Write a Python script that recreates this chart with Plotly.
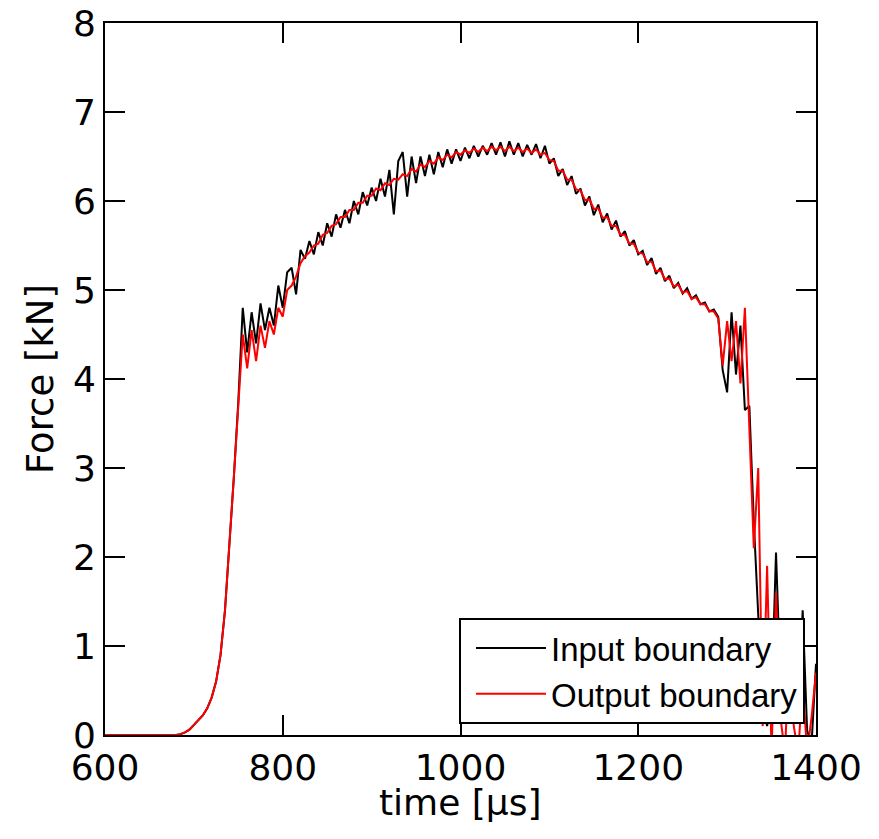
import plotly.graph_objects as go

time_us = [600, 605, 610, 615, 620, 625, 630, 635, 640, 645, 650, 655, 660, 665, 670, 675, 680,
           685, 690, 695, 700, 705, 710, 715, 720, 725, 730, 735, 740, 745, 750,
           755, 760, 765, 770, 775, 780, 785, 790, 795, 800,
           805, 810, 815, 820, 825, 830, 835, 840, 845, 850,
           855, 860, 865, 870, 875, 880, 885, 890, 895, 900,
           905, 910, 915, 920, 925, 930, 935, 940, 945, 950,
           955, 960, 965, 970, 975, 980, 985, 990, 995, 1000,
           1005, 1010, 1015, 1020, 1025, 1030, 1035, 1040, 1045, 1050,
           1055, 1060, 1065, 1070, 1075, 1080, 1085, 1090, 1095, 1100,
           1105, 1110, 1115, 1120, 1125, 1130, 1135, 1140, 1145, 1150,
           1155, 1160, 1165, 1170, 1175, 1180, 1185, 1190, 1195, 1200,
           1205, 1210, 1215, 1220, 1225, 1230, 1235, 1240, 1245, 1250,
           1255, 1260, 1265, 1270, 1275, 1280, 1285, 1290, 1295, 1300,
           1305, 1310, 1315, 1320, 1325, 1330, 1335, 1340, 1345, 1350,
           1355, 1360, 1365, 1370, 1375, 1380, 1385, 1390, 1395, 1400]

input_kN = [0, 0, 0, 0, 0, 0, 0, 0, 0, 0, 0, 0, 0, 0, 0, 0, 0,
            0.01, 0.03, 0.06, 0.11, 0.16, 0.22, 0.30, 0.42, 0.60, 0.90, 1.40, 2.10, 2.90, 3.75,
            4.80, 4.30, 4.75, 4.40, 4.85, 4.55, 4.80, 4.60, 5.05, 4.80,
            5.20, 5.25, 4.95, 5.45, 5.35, 5.55, 5.40, 5.65, 5.50, 5.75,
            5.60, 5.85, 5.70, 5.90, 5.75, 6.00, 5.85, 6.10, 5.95, 6.15,
            6.00, 6.25, 6.05, 6.35, 5.85, 6.45, 6.55, 6.05, 6.50, 6.20,
            6.50, 6.28, 6.52, 6.30, 6.55, 6.38, 6.58, 6.42, 6.58, 6.45,
            6.60, 6.48, 6.62, 6.50, 6.62, 6.52, 6.65, 6.52, 6.66, 6.50,
            6.67, 6.52, 6.65, 6.50, 6.63, 6.52, 6.64, 6.48, 6.62, 6.42,
            6.48, 6.28, 6.36, 6.18, 6.28, 6.08, 6.14, 5.95, 6.05, 5.84,
            5.96, 5.76, 5.86, 5.68, 5.78, 5.60, 5.66, 5.50, 5.56, 5.40,
            5.44, 5.28, 5.36, 5.18, 5.25, 5.10, 5.16, 5.02, 5.08, 4.96,
            5.02, 4.90, 4.94, 4.84, 4.86, 4.76, 4.78, 4.70, 4.10, 3.85,
            4.75, 4.05, 4.60, 3.65, 3.70, 2.40, 1.40, 0.30, 0.10, 0.40,
            2.05, 0.60, 1.05, 0.35, 1.25, 0.20, 1.40, 0.05, -0.10, 0.80]

output_kN = [0, 0, 0, 0, 0, 0, 0, 0, 0, 0, 0, 0, 0, 0, 0, 0, 0,
             0.01, 0.03, 0.06, 0.11, 0.16, 0.22, 0.30, 0.42, 0.60, 0.90, 1.40, 2.10, 2.90, 3.70,
             4.50, 4.12, 4.55, 4.20, 4.60, 4.35, 4.65, 4.50, 4.80, 4.70,
             5.00, 5.05, 5.15, 5.30, 5.38, 5.42, 5.50, 5.52, 5.62, 5.64,
             5.72, 5.74, 5.82, 5.82, 5.90, 5.90, 5.98, 5.98, 6.06, 6.06,
             6.14, 6.12, 6.20, 6.18, 6.25, 6.24, 6.30, 6.28, 6.36, 6.33,
             6.41, 6.38, 6.45, 6.42, 6.49, 6.46, 6.52, 6.49, 6.55, 6.52,
             6.57, 6.54, 6.59, 6.55, 6.60, 6.56, 6.61, 6.57, 6.61, 6.56,
             6.61, 6.56, 6.60, 6.55, 6.59, 6.54, 6.58, 6.52, 6.54, 6.46,
             6.45, 6.34, 6.34, 6.24, 6.24, 6.13, 6.12, 6.01, 6.02, 5.91,
             5.92, 5.81, 5.82, 5.72, 5.72, 5.62, 5.62, 5.52, 5.52, 5.42,
             5.41, 5.31, 5.32, 5.21, 5.22, 5.12, 5.13, 5.04, 5.06, 4.97,
             4.99, 4.90, 4.92, 4.84, 4.84, 4.76, 4.76, 4.68, 4.15, 4.65,
             4.20, 4.65, 3.95, 4.80, 3.40, 2.10, 3.00, 0.10, 1.90, -0.20,
             1.60, 0.20, -0.20, 0.90, 0.10, -0.20, 0.60, -0.20, 0.20, 0.70]

x_ticks = [600, 800, 1000, 1200, 1400]
y_ticks = [0, 1, 2, 3, 4, 5, 6, 7, 8]

AXFONT = "DejaVu Sans, sans-serif"
LGFONT = "Arial, Liberation Sans, sans-serif"

fig = go.Figure()
fig.add_trace(go.Scatter(x=time_us, y=input_kN, mode="lines", name="Input boundary",
                         line=dict(color="#000000", width=2)))
fig.add_trace(go.Scatter(x=time_us, y=output_kN, mode="lines", name="Output boundary",
                         line=dict(color="#ff0000", width=2)))

axis_common = dict(showline=True, linecolor="black", linewidth=2, mirror="ticks",
                   ticks="inside", ticklen=20, tickwidth=2, tickcolor="black",
                   showgrid=False, zeroline=False, automargin=False,
                   ticklabeloverflow="allow",
                   tickfont=dict(family=AXFONT, size=36, color="black"))

fig.update_xaxes(range=[600, 1400], tickvals=x_ticks, ticktext=[str(v) for v in x_ticks],
                 **axis_common)
fig.update_yaxes(range=[0, 8], tickvals=y_ticks, ticktext=[str(v) for v in y_ticks],
                 title=dict(text="Force [kN]", font=dict(family=AXFONT, size=37, color="black"),
                            standoff=8),
                 **axis_common)

fig.add_annotation(text="time [μs]", xref="paper", yref="paper", x=0.5, y=0,
                   xanchor="center", yanchor="middle", yshift=-67, showarrow=False,
                   font=dict(family=AXFONT, size=36, color="black"))

fig.update_layout(
    width=879, height=839,
    margin=dict(l=97, r=71, t=15, b=112),
    plot_bgcolor="white", paper_bgcolor="white",
    showlegend=True,
    legend=dict(x=0.9845, y=0.0155, xanchor="right", yanchor="bottom",
                bgcolor="white", bordercolor="black", borderwidth=2,
                font=dict(family=LGFONT, size=33, color="black"),
                itemwidth=70, indentation=10,
                traceorder="normal"),
)

fig.write_html("out.html")
